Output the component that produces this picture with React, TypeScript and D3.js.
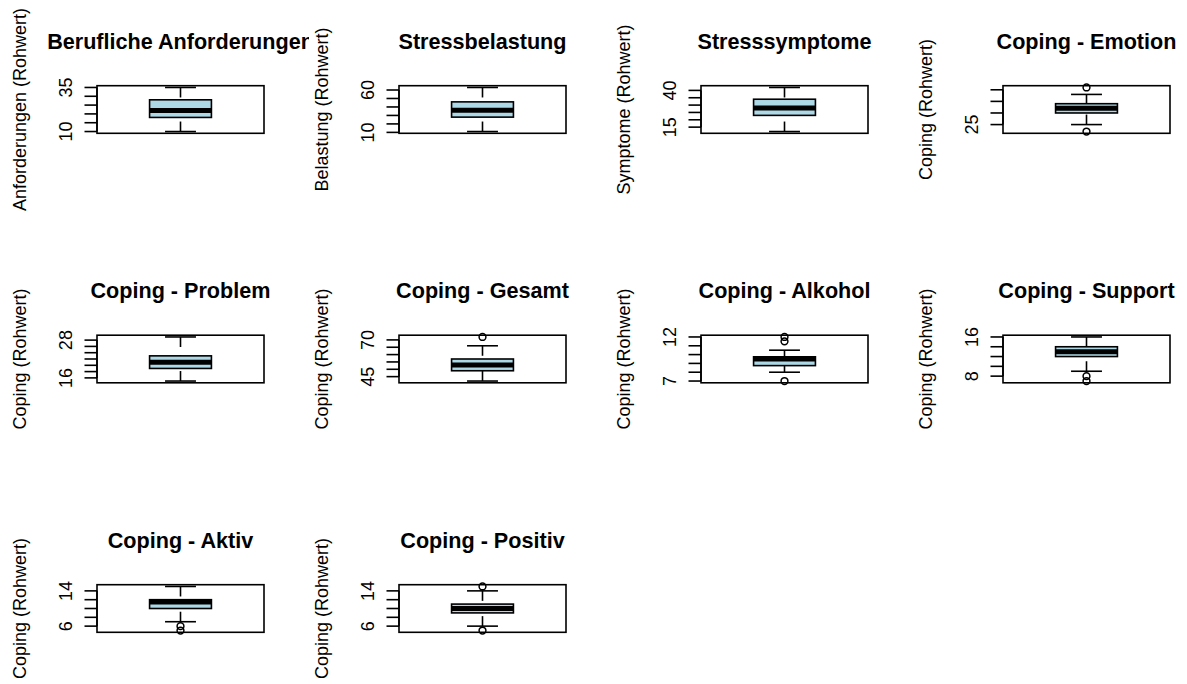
import React from "react";
import * as d3 from "d3";

const titles = [
  "Berufliche Anforderungen",
  "Stressbelastung",
  "Stresssymptome",
  "Coping - Emotion",
  "Coping - Problem",
  "Coping - Gesamt",
  "Coping - Alkohol",
  "Coping - Support",
  "Coping - Aktiv",
  "Coping - Positiv",
];
const yLabels = [
  "Anforderungen (Rohwert)",
  "Belastung (Rohwert)",
  "Symptome (Rohwert)",
  "Coping (Rohwert)",
  "Coping (Rohwert)",
  "Coping (Rohwert)",
  "Coping (Rohwert)",
  "Coping (Rohwert)",
  "Coping (Rohwert)",
  "Coping (Rohwert)",
];
const whiskerLow = [10, 11, 12, 25, 15, 42, 8, 9, 7, 6];
const q1 = [18, 28, 23, 30, 19, 49, 8.75, 12, 10, 9];
const medians = [22, 36, 28, 32, 21, 53, 9.5, 13, 11.5, 10];
const q3 = [28, 46, 34, 34, 23, 57, 9.75, 14, 12, 11];
const whiskerHigh = [35, 63, 42, 38, 29, 66, 10.5, 16, 15, 14];
const outliers: number[][] = [[], [], [], [22, 41], [], [72], [7, 11.5, 12], [8, 7], [6, 5], [5, 15]];
const tickValues: number[][] = [
  [10, 15, 20, 25, 30, 35],
  [10, 20, 30, 40, 50, 60],
  [15, 20, 25, 30, 35, 40],
  [25, 30, 35, 40],
  [16, 18, 20, 22, 24, 26, 28],
  [45, 50, 55, 60, 65, 70],
  [7, 8, 9, 10, 11, 12],
  [8, 10, 12, 14, 16],
  [6, 8, 10, 12, 14],
  [6, 8, 10, 12, 14],
];
const tickLabels: number[][] = [
  [10, 35],
  [10, 60],
  [15, 40],
  [25],
  [16, 28],
  [45, 70],
  [7, 12],
  [8, 16],
  [6, 14],
  [6, 14],
];

const W = 1187;
const H = 684;
const FONT = "'Liberation Sans', Arial, Helvetica, sans-serif";
const LW = 1.6;

function Panel({ i }: { i: number }) {
  const col = i % 4;
  const row = Math.floor(i / 4);
  const left = 97 + col * 302;
  const top = 85.7 + row * 249.5;
  const w = 167;
  const h = 47.6;
  const all = [whiskerLow[i], whiskerHigh[i], q1[i], q3[i], ...outliers[i]];
  const lo = d3.min(all) as number;
  const hi = d3.max(all) as number;
  const pad = 0.04 * (hi - lo);
  const y = d3.scaleLinear().domain([lo - pad, hi + pad]).range([top + h, top]);
  const x = d3.scaleLinear().domain([0.46, 1.54]).range([left, left + w]);
  const cx = x(1);
  const clipId = `clip-${i}`;
  return (
    <g>
      <defs>
        <clipPath id={clipId}>
          <rect x={left - 89} y={top - 95} width={w + 89 + 45} height={h + 200} />
        </clipPath>
      </defs>
      <text
        x={left + w / 2}
        y={top - 37}
        textAnchor="middle"
        fontWeight="bold"
        fontSize={21.6}
        fontFamily={FONT}
        fill="#000"
        clipPath={`url(#${clipId})`}
      >
        {titles[i]}
      </text>
      <text
        transform={`translate(${left - 71},${top + h / 2}) rotate(-90)`}
        textAnchor="middle"
        fontSize={18}
        fontFamily={FONT}
        fill="#000"
      >
        {yLabels[i]}
      </text>
      {tickValues[i].map((t) => (
        <line key={"t" + t} x1={left - 12.5} x2={left} y1={y(t)} y2={y(t)} stroke="#000" strokeWidth={LW} />
      ))}
      <line x1={left} x2={left} y1={y(tickValues[i][0])} y2={y(tickValues[i][tickValues[i].length - 1])} stroke="#000" strokeWidth={LW} />
      {tickLabels[i].map((t) => (
        <text
          key={"l" + t}
          transform={`translate(${left - 25},${y(t)}) rotate(-90)`}
          textAnchor="middle"
          fontSize={18}
          fontFamily={FONT}
          fill="#000"
        >
          {t}
        </text>
      ))}
      {/* whiskers */}
      <line x1={cx} x2={cx} y1={y(whiskerLow[i])} y2={y(q1[i])} stroke="#000" strokeWidth={LW} strokeDasharray="10,8" />
      <line x1={cx} x2={cx} y1={y(whiskerHigh[i])} y2={y(q3[i])} stroke="#000" strokeWidth={LW} strokeDasharray="10,8" />
      {/* staples */}
      <line x1={x(0.9)} x2={x(1.1)} y1={y(whiskerLow[i])} y2={y(whiskerLow[i])} stroke="#000" strokeWidth={LW} />
      <line x1={x(0.9)} x2={x(1.1)} y1={y(whiskerHigh[i])} y2={y(whiskerHigh[i])} stroke="#000" strokeWidth={LW} />
      {/* box */}
      <rect
        x={x(0.8)}
        y={y(q3[i])}
        width={x(1.2) - x(0.8)}
        height={y(q1[i]) - y(q3[i])}
        fill="#ADD8E6"
        stroke="#000"
        strokeWidth={LW}
      />
      <line x1={x(0.8)} x2={x(1.2)} y1={y(medians[i])} y2={y(medians[i])} stroke="#000" strokeWidth={5} />
      {outliers[i].map((o, k) => (
        <circle key={"o" + k} cx={cx} cy={y(o)} r={3.4} fill="none" stroke="#000" strokeWidth={1.5} />
      ))}
      <rect x={left} y={top} width={w} height={h} fill="none" stroke="#000" strokeWidth={LW} />
    </g>
  );
}

export default function App() {
  return (
    <svg
      width={W}
      height={H}
      style={{ position: "absolute", left: 0, top: 0, background: "#fff" }}
    >
      <rect x={0} y={0} width={W} height={H} fill="#fff" />
      {titles.map((_, i) => (
        <Panel key={i} i={i} />
      ))}
    </svg>
  );
}
